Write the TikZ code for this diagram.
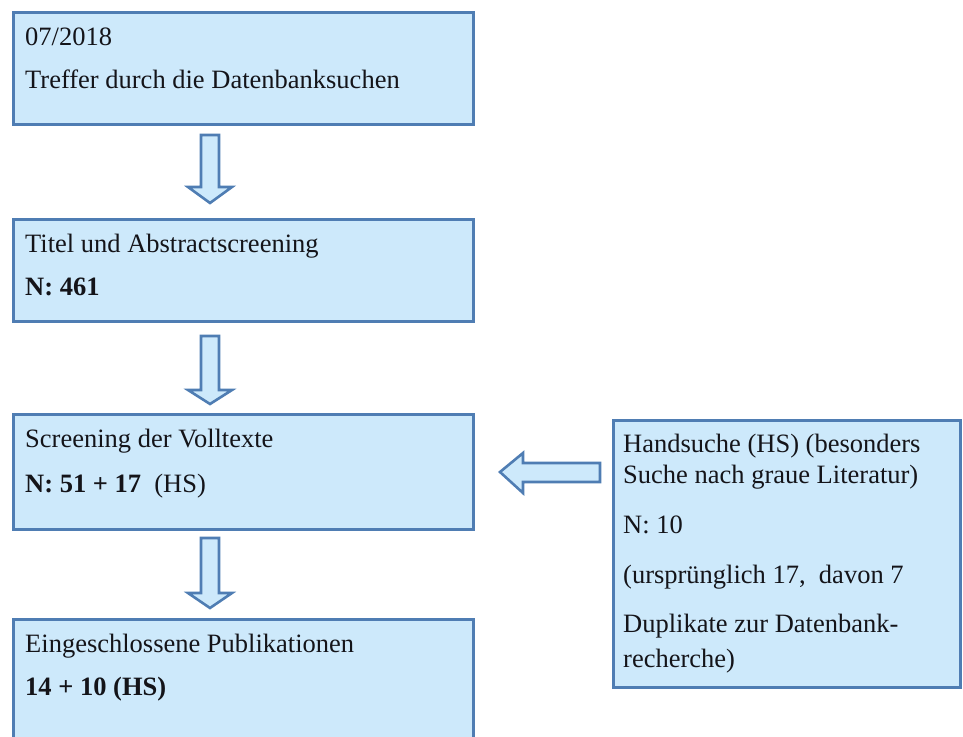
\documentclass[tikz,border=0pt]{standalone}
\usepackage{fontspec}
\setmainfont{Liberation Serif}
\definecolor{boxfill}{RGB}{205,233,251}
\definecolor{boxline}{RGB}{79,125,179}
\definecolor{txt}{RGB}{20,20,25}
\tikzset{
  box/.style={draw=boxline, fill=boxfill, line width=3pt, rectangle, inner sep=0pt, anchor=north west},
  label/.style={anchor=base west, inner sep=0pt, text=txt, font=\fontsize{26.5}{30}\selectfont},
  barrow/.style={draw=boxline, fill=boxfill, line width=2.6pt, line join=miter}
}
\begin{document}
\begin{tikzpicture}[x=1pt,y=-1pt]
\clip (0,0) rectangle (963,736);
\fill[white] (0,0) rectangle (963,736);
% boxes
\node[box, minimum width=460pt, minimum height=112pt] (b1) at (12,11) {};
\node[box, minimum width=460pt, minimum height=102pt] (b2) at (12,218) {};
\node[box, minimum width=460pt, minimum height=115pt] (b3) at (12,413) {};
\node[box, minimum width=460pt, minimum height=140pt] (b4) at (12,618) {};
\node[box, minimum width=347pt, minimum height=267pt] (r) at (612,419) {};
% texts
\node[label] (t1a) at (25,45) {07/2018};
\node[label] (t1b) at (25,88) {Treffer durch die Datenbanksuchen};
\node[label] (t2a) at (25,252) {Titel und Abstractscreening};
\node[label] (t2b) at (25,295) {\textbf{N: 461}};
\node[label] (t3a) at (25,447) {Screening der Volltexte};
\node[label] (t3b) at (25,492) {\textbf{N: 51 + 17}\ \ (HS)};
\node[label] (t4a) at (25,652) {Eingeschlossene Publikationen};
\node[label] (t4b) at (25,695) {\textbf{14 + 10 (HS)}};
\node[label] (r1) at (623,452) {Handsuche (HS) (besonders};
\node[label] (r2) at (623,483) {Suche nach graue Literatur)};
\node[label] (r3) at (623,533) {N: 10};
\node[label] (r4) at (623,583) {(ursprünglich 17,\ \ davon 7};
\node[label] (r5) at (623,632) {Duplikate zur Datenbank-};
\node[label] (r6) at (623,667) {recherche)};
% block arrows
\draw[barrow] (201,135) -- (219,135) -- (219,187) -- (232,187) -- (210,203) -- (188,187) -- (201,187) -- cycle;
\draw[barrow] (201,336) -- (219,336) -- (219,390) -- (232,390) -- (210,404) -- (188,390) -- (201,390) -- cycle;
\draw[barrow] (201,538) -- (219,538) -- (219,593) -- (232,593) -- (210,608) -- (188,593) -- (201,593) -- cycle;
\draw[barrow] (600,463) -- (600,482) -- (523,482) -- (523,493) -- (500,472) -- (523,453) -- (523,463) -- cycle;
\end{tikzpicture}
\end{document}
